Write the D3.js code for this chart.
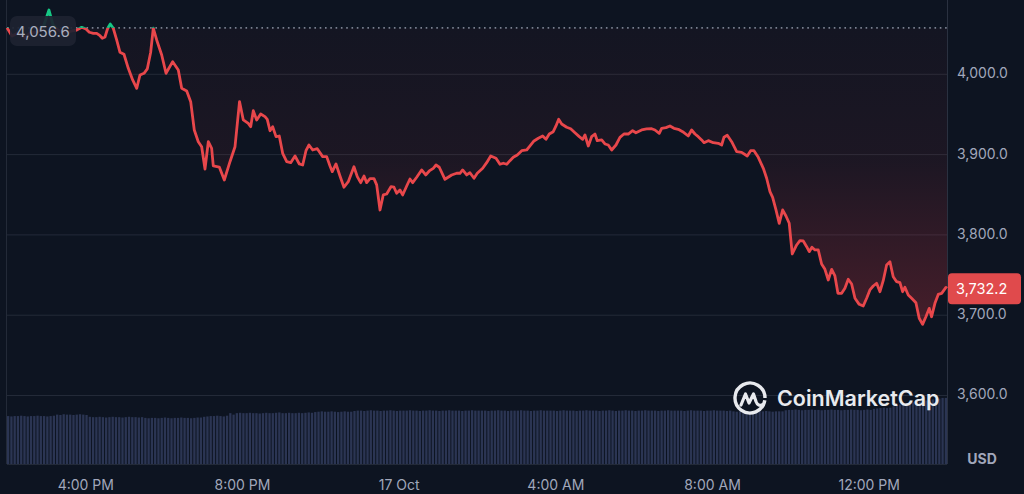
<!DOCTYPE html>
<html><head><meta charset="utf-8">
<script src="https://cdn.jsdelivr.net/npm/d3@7"></script>
<style>
html,body{margin:0;padding:0;background:#0d1421;}
svg{display:block;font-family:Inter,"Noto Sans",sans-serif;}
</style></head>
<body>
<svg id="chart" width="1024" height="494"></svg>
<script>
// ---- data (minutes after 2:00 PM, 16 Oct) ----
const times = [0,7.7,16.8,27.6,35.2,47.5,56.7,64.3,70.5,78.1,88.8,99.6,106.8,114.4,121.0,126.1,132.2,137.4,142.5,146.0,150.1,154.3,158.2,162.8,168.0,173.1,179.2,185.8,192.5,198.7,203.7,209.9,214.9,220.1,224.1,229.3,237.0,243.6,253.8,262.4,267.6,275.3,281.4,286.9,293.0,298.2,303.3,308.4,313.5,316.0,325.2,332.9,341.6,349.3,356.2,362.0,369.6,373.3,377.3,382.5,388.6,395.2,398.7,402.9,407.0,412.1,417.1,422.3,428.5,434.6,441.2,447.8,453.0,458.0,462.6,468.3,475.3,483.6,489.7,494.8,498.3,504.0,510.1,516.2,522.8,531.5,536.6,541.8,546.9,551.0,556.1,562.2,566.3,571.4,576.4,581.6,588.2,592.8,596.9,602.0,606.1,612.3,617.3,621.5,627.6,635.2,641.4,646.9,653.0,657.2,662.2,670.9,681.2,688.8,693.9,698.0,704.2,709.2,715.4,720.4,728.7,734.8,741.0,749.1,755.2,760.3,765.5,770.5,775.6,781.7,788.5,796.1,801.2,807.3,813.9,820.6,825.7,830.7,836.8,841.0,845.1,849.7,857.4,863.5,870.1,876.7,881.9,885.4,890.5,895.6,900.7,904.2,911.0,916.0,921.1,926.3,932.9,939.0,945.1,951.7,958.4,963.5,972.2,979.9,987.6,992.6,999.2,1002.9,1009.5,1015.6,1021.7,1028.3,1035.0,1043.6,1048.8,1053.9,1058.9,1064.1,1067.7,1074.3,1081.9,1089.6,1094.8,1098.3,1103.4,1110.1,1117.8,1125.4,1134.0,1139.2,1144.3,1150.9,1158.6,1163.7,1168.8,1172.9,1178.0,1183.0,1188.2,1193.3,1198.3,1202.9,1209.7,1214.7,1219.8,1225.0,1229.0,1233.1,1237.7,1242.8,1247.9,1253.0,1258.1,1263.3,1268.3,1272.9,1278.6,1283.6,1288.7,1293.9,1299.0,1305.5,1311.7,1316.9,1321.9,1327.0,1332.2,1337.3,1342.3,1347.5,1352.6,1357.6,1362.8,1367.9,1372.0,1375.5,1380.6,1385.8,1392.4,1397.4,1402.6,1407.7,1412.8,1416.4,1421.5,1426.6,1431.8,1438.4,1440];
const prices = [4056.6,4046.5,4050.2,4044.0,4050.2,4051.5,4060.2,4078.8,4060.2,4053.9,4050.2,4052.7,4053.9,4057.3,4055.2,4051.1,4049.8,4049.8,4046.8,4043.6,4045.2,4056.1,4061.4,4056.1,4041.5,4026.2,4023.7,4006.2,3991.7,3981.3,3997.9,4000.0,4005.4,4026.2,4056.1,4041.5,4022.8,4000.0,4014.5,4004.1,3981.3,3978.0,3964.7,3929.4,3914.8,3908.6,3880.8,3914.8,3906.6,3884.6,3883.3,3867.1,3889.9,3908.6,3964.7,3941.9,3937.7,3933.5,3953.4,3941.9,3949.3,3946.0,3942.7,3928.5,3933.5,3921.1,3921.9,3900.4,3889.9,3888.7,3897.0,3887.1,3885.8,3903.6,3910.7,3904.5,3906.1,3896.2,3896.2,3884.6,3877.5,3887.1,3872.1,3858.1,3865.0,3883.7,3871.3,3863.8,3872.1,3863.8,3868.8,3868.8,3861.0,3829.8,3848.5,3849.7,3858.8,3858.1,3850.6,3854.7,3848.5,3859.7,3868.4,3863.8,3870.5,3879.6,3873.4,3878.4,3881.7,3885.8,3883.0,3868.0,3873.4,3875.5,3875.5,3879.6,3873.4,3876.2,3869.3,3875.5,3881.7,3888.7,3897.0,3894.2,3886.7,3888.0,3886.7,3891.2,3895.4,3898.3,3903.6,3904.5,3909.5,3915.7,3919.1,3921.9,3917.8,3924.4,3927.3,3934.4,3942.7,3936.9,3932.8,3931.0,3926.0,3921.1,3917.8,3923.2,3909.5,3921.1,3924.4,3916.1,3917.0,3912.0,3910.7,3904.5,3910.7,3920.3,3924.4,3924.4,3928.5,3926.0,3929.4,3930.7,3931.0,3929.4,3925.3,3931.5,3932.3,3934.4,3931.5,3930.3,3927.3,3921.9,3929.4,3924.4,3921.1,3917.0,3913.6,3916.1,3913.6,3912.8,3910.7,3920.3,3922.8,3914.8,3902.4,3901.6,3897.0,3903.6,3903.6,3895.4,3881.7,3869.3,3852.6,3845.6,3829.8,3813.2,3829.8,3822.3,3813.2,3775.0,3786.2,3791.6,3791.2,3784.1,3777.9,3783.3,3780.0,3780.0,3762.5,3755.9,3742.6,3755.9,3747.6,3726.0,3726.0,3732.3,3743.5,3737.6,3719.8,3712.3,3710.2,3719.8,3730.2,3735.1,3738.5,3728.0,3741.7,3761.3,3765.4,3746.7,3740.5,3739.3,3728.0,3733.5,3723.9,3719.8,3714.3,3694.9,3687.4,3696.8,3707.3,3696.8,3713.5,3724.6,3725.9,3733.4,3732.2];
const openPrice = 4056.6;
const lastPrice = 3732.2;
// 24h rolling volume, billions USD, one bar per 5 minutes
const volumes = [
13.2,13.1,13.2,13.2,13.3,13.2,13.1,13.2,13.2,13.3,13.2,13.2,13.1,13.2,13.3,
13.6,13.5,13.7,13.6,13.6,13.5,13.6,13.7,13.6,13.5,
13.0,12.9,12.9,13.0,12.9,12.8,12.9,13.0,12.9,12.9,12.8,12.9,13.0,12.9,12.9,12.8,12.9,
12.7,12.6,12.7,12.7,12.6,12.7,12.8,12.7,12.6,12.7,12.7,12.8,12.7,12.7,12.6,12.7,12.8,12.8,
13.0,13.1,13.2,13.2,13.3,13.2,13.1,13.3,14.0,
13.6,14.0,14.1,14.0,14.0,14.1,14.0,14.0,13.9,14.0,14.1,14.0,14.0,14.1,14.2,14.0,14.0,14.1,14.0,14.0,14.1,14.0,14.1,14.2,14.1,
14.3,14.4,14.5,14.4,14.4,14.5,14.4,14.3,14.4,14.5,14.4,14.4,
14.6,14.7,14.7,14.6,14.7,14.8,14.7,14.7,14.6,14.7,14.7,14.8,14.7,14.6,14.7,14.7,14.7,14.8,14.7,14.7,
14.6,14.7,14.7,14.8,14.7,14.7,14.6,14.7,14.7,14.8,14.7,14.7,14.7,14.6,14.7,14.7,14.8,14.7,14.7,14.7,
14.7,14.6,14.7,14.7,14.8,14.7,14.7,14.6,14.7,14.7,14.7,14.8,14.7,14.7,14.6,14.7,14.7,14.8,14.7,14.7,
14.7,14.7,14.6,14.7,14.8,14.7,14.7,14.7,14.6,14.7,14.7,14.8,14.7,14.7,14.7,14.6,14.7,14.7,14.8,14.7,
14.6,14.7,14.7,14.8,14.7,14.7,14.6,14.7,14.7,14.8,14.7,14.7,14.7,14.6,14.7,14.7,14.8,14.7,14.7,14.7,
14.7,14.6,14.7,14.8,14.7,14.7,14.7,14.6,14.7,14.7,14.8,14.7,14.7,14.7,14.6,14.7,
14.5,14.4,14.5,14.5,14.6,14.5,14.4,14.5,14.5,14.5,14.6,14.5,14.4,14.5,14.5,14.5,
14.8,14.9,14.9,15.0,14.9,14.8,14.9,14.9,15.0,14.9,14.9,14.8,14.9,14.9,15.0,14.9,14.9,14.8,14.9,14.9,15.0,14.9,14.9,14.8,14.9,15.0,14.9,
15.2,15.3,15.4,15.5,15.4,15.5,
15.9,16.2,16.4,16.6,16.8,16.9,17.0,17.1,17.2,17.4,17.5,17.6,17.8,17.9,
18.0,18.2,18.2];
const priceTicks = [4000,3900,3800,3700,3600];
const timeTicks = [120,360,600,840,1080,1320];
const timeLabels = ["4:00 PM","8:00 PM","17 Oct","4:00 AM","8:00 AM","12:00 PM"];

// ---- layout ----
const L = 7, R = 947, volBottom = 464;
const svg = d3.select("#chart");
const x = d3.scaleLinear().domain([0,1440]).range([L,R]);
const y = d3.scaleLinear().domain([3600,4000]).range([394.5,73.3]);
const yv = d3.scaleLinear().domain([0,19]).range([volBottom,395]);
const xb = d3.scaleBand().domain(d3.range(volumes.length)).range([L,R]).paddingInner(0.3);
const data = times.map((t,i)=>({t, p:prices[i]}));
const baseY = y(openPrice);

svg.append("rect").attr("width",1024).attr("height",494).attr("fill","#0d1421");

const defs = svg.append("defs");
const gr = defs.append("linearGradient").attr("id","redFill").attr("gradientUnits","userSpaceOnUse")
  .attr("x1",0).attr("x2",0).attr("y1",baseY).attr("y2",y(d3.min(prices)));
gr.append("stop").attr("offset",0).attr("stop-color","#ea3943").attr("stop-opacity",0.03);
gr.append("stop").attr("offset",0.45).attr("stop-color","#ea3943").attr("stop-opacity",0.07);
gr.append("stop").attr("offset",1).attr("stop-color","#ea3943").attr("stop-opacity",0.26);
const gg = defs.append("linearGradient").attr("id","greenFill").attr("gradientUnits","userSpaceOnUse")
  .attr("x1",0).attr("x2",0).attr("y1",baseY).attr("y2",y(d3.max(prices)));
gg.append("stop").attr("offset",0).attr("stop-color","#16c784").attr("stop-opacity",0.04);
gg.append("stop").attr("offset",1).attr("stop-color","#16c784").attr("stop-opacity",0.3);
defs.append("clipPath").attr("id","below").append("rect").attr("x",0).attr("y",baseY).attr("width",1024).attr("height",494);
defs.append("clipPath").attr("id","above").append("rect").attr("x",0).attr("y",0).attr("width",1024).attr("height",baseY);

// grid + frame
const grid = svg.append("g").attr("class","grid").attr("transform",`translate(${R},0)`)
  .call(d3.axisLeft(y).tickValues(priceTicks).tickSize(R-L).tickFormat(""));
grid.select(".domain").remove();
grid.selectAll("line").attr("stroke","#232a38").attr("stroke-width",1)
  .attr("transform","translate(0,0.5)");
svg.append("line").attr("x1",L-0.5).attr("x2",L-0.5).attr("y1",0).attr("y2",volBottom).attr("stroke","#232a38");
svg.append("line").attr("x1",R+0.5).attr("x2",R+0.5).attr("y1",0).attr("y2",volBottom).attr("stroke","#2a3140");
svg.append("line").attr("x1",L).attr("x2",R).attr("y1",volBottom+0.5).attr("y2",volBottom+0.5).attr("stroke","#232a38");

// volume
svg.append("g").selectAll("rect").data(volumes).join("rect")
  .attr("x",(d,i)=>xb(i)).attr("width",xb.bandwidth())
  .attr("y",d=>yv(d)).attr("height",d=>volBottom-yv(d))
  .attr("fill","#2b3553");

// areas
const area = d3.area().x(d=>x(d.t)).y0(baseY).y1(d=>y(d.p));
svg.append("path").datum(data).attr("d",area).attr("fill","url(#redFill)").attr("clip-path","url(#below)");
svg.append("path").datum(data).attr("d",area).attr("fill","url(#greenFill)").attr("clip-path","url(#above)");

// baseline dotted
svg.append("line").attr("x1",L).attr("x2",R).attr("y1",baseY).attr("y2",baseY)
  .attr("stroke","#7a8090").attr("stroke-width",1.6).attr("stroke-dasharray","1.6,3.7");

// price line
const line = d3.line().x(d=>x(d.t)).y(d=>y(d.p));
svg.append("path").datum(data).attr("d",line).attr("fill","none").attr("stroke","#e8474b")
  .attr("stroke-width",2.8).attr("stroke-linejoin","round").attr("clip-path","url(#below)");
svg.append("path").datum(data).attr("d",line).attr("fill","none").attr("stroke","#16c784")
  .attr("stroke-width",2.8).attr("stroke-linejoin","round").attr("clip-path","url(#above)");

// right axis labels
const ya = svg.append("g").attr("transform",`translate(${R},0)`)
  .call(d3.axisRight(y).tickValues(priceTicks).tickSize(0).tickPadding(10).tickFormat(d3.format(",.1f")));
ya.select(".domain").remove();
ya.selectAll("text").attr("fill","#a1a7bb").attr("font-size",14).attr("font-family","Inter, sans-serif");
svg.append("text").attr("x",982).attr("y",464).attr("text-anchor","middle").attr("fill","#a1a7bb")
  .attr("font-size",14).attr("font-weight",700).text("USD");

// bottom axis labels
const xa = svg.append("g").attr("transform",`translate(0,477)`)
  .call(d3.axisBottom(x).tickValues(timeTicks).tickSize(0).tickPadding(0).tickFormat((d,i)=>timeLabels[i]));
xa.select(".domain").remove();
xa.selectAll("text").attr("fill","#a1a7bb").attr("font-size",14).attr("font-family","Inter, sans-serif").attr("dy","0.95em");

// logo
const lg = svg.append("g").attr("transform","translate(750,398)");
lg.append("path").attr("d",d3.arc()({innerRadius:15,outerRadius:15,startAngle:0.55*Math.PI,endAngle:2.5*Math.PI}))
  .attr("fill","none").attr("stroke","#e8eaee").attr("stroke-width",3.4).attr("stroke-linecap","round");
lg.append("path").attr("d","M-9,7 L-4.5,-4 L-1,5 L3.5,-4 L6,3.5 Q8,9 13,6.5")
  .attr("fill","none").attr("stroke","#e8eaee").attr("stroke-width",3.2).attr("stroke-linejoin","round").attr("stroke-linecap","round");
svg.append("text").attr("x",777).attr("y",405.5).attr("fill","#e8eaee").attr("font-size",21.5)
  .attr("font-weight",600).attr("font-family","Inter, sans-serif").text("CoinMarketCap");

// open price label
const openTag = svg.append("g");
openTag.append("rect").attr("x",10).attr("y",16).attr("width",66).attr("height",30).attr("rx",7)
  .attr("fill","#1d2331").attr("fill-opacity",0.92);
openTag.append("text").attr("x",16).attr("y",36.5).attr("fill","#a9afbf").attr("font-size",15)
  .text(d3.format(",.1f")(openPrice));

// last price label
const lastY = y(lastPrice);
svg.append("rect").attr("x",948).attr("y",lastY-15).attr("width",73).attr("height",31).attr("rx",4).attr("fill","#e04a4c");
svg.append("text").attr("x",956).attr("y",lastY+5.5).attr("fill","#ffffff").attr("font-size",14.5)
  .text(d3.format(",.1f")(lastPrice));
</script>
</body></html>
